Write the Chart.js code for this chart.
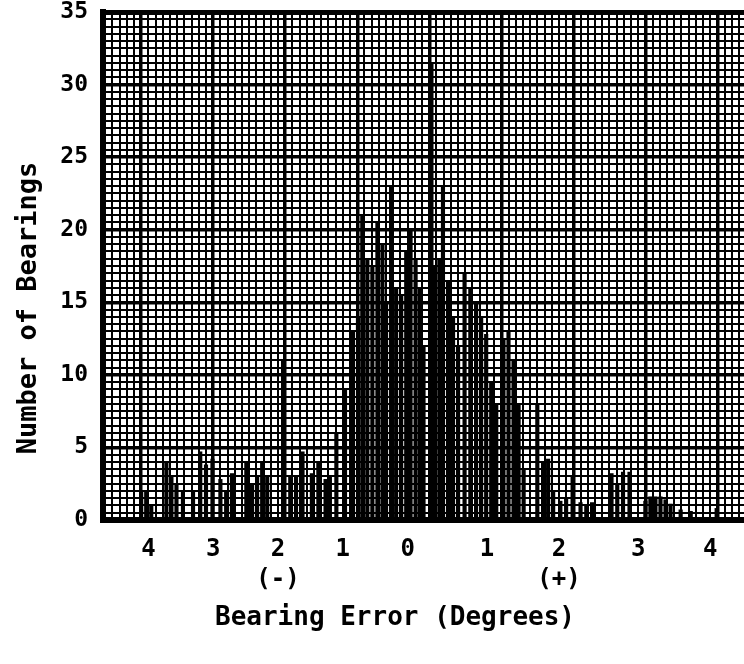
<!DOCTYPE html>
<html>
<head>
<meta charset="utf-8">
<script src="https://cdn.jsdelivr.net/npm/chart.js@4.4.1/dist/chart.umd.min.js"></script>
<style>
html,body{margin:0;padding:0;background:#fff;overflow:hidden;width:744px;height:664px}
#wrap{position:absolute;left:0;top:0;width:775px;height:664px}
</style>
</head>
<body>
<div id="wrap"><canvas id="c" width="775" height="664"></canvas></div>
<script>
// Bearing error of each bar (degrees: one heavy square = 1 degree)
const barErrors = [
  -4.00,-3.93,-3.86,-3.65,-3.58,-3.51,-3.42,-3.28,-3.18,-3.10,-3.01,-2.90,-2.82,-2.74,
  -2.54,-2.46,-2.39,-2.32,-2.25,-2.03,-1.93,-1.85,-1.76,-1.63,-1.54,-1.44,-1.38,-1.29,
  -1.17,-1.06,-0.99,-0.93,-0.86,-0.79,-0.72,-0.65,-0.60,-0.53,-0.46,-0.39,-0.32,-0.26,
  -0.19,-0.13,-0.08,0.03,0.08,0.14,0.19,0.26,0.33,0.40,0.49,0.57,0.65,0.72,0.79,0.86,
  0.93,1.03,1.10,1.17,1.24,1.31,1.50,1.58,1.65,1.72,1.82,1.90,1.99,2.10,2.18,2.26,
  2.53,2.61,2.69,2.78,3.00,3.07,3.14,3.21,3.28,3.35,3.49,3.63,3.99
];
// Number of bearings for each bar
const barCounts = [
  2,2,1,4,3,2.5,2,2,4.7,3.8,4.2,2.8,2,3.2,
  4,2.5,3,4,3,11,3,3,4.7,3.2,4,2.8,3,6,
  9,13,14,21,18,17.5,20.5,19,15,23,16,15.5,18.5,20,
  18,16,12,31.5,17.5,18,23,16.5,14,12,17,16,15,14,12.8,9.5,
  8,12.5,13,11,8,3.5,8,4,4.2,2,1.3,1.5,3,1.2,1,1.2,
  3.2,2.5,3.3,3.3,1.3,1.6,1.6,1.6,1.4,1.1,0.7,0.6,0.8
];
// Typed x-axis labels and where they sit along the axis (degrees)
const xTickPositions = [-3.9,-3.0,-2.1,-1.2,-0.3,0.8,1.8,2.9,3.9];
const xTickLabels = [["4"],["3"],["2","(-)"],["1"],["0"],["1"],["2","(+)"],["3"],["4"]];
// Y tick labels
const yTickLabels = [0,5,10,15,20,25,30,35];
const xTitle = 'Bearing Error (Degrees)';
const yTitle = 'Number of Bearings';

const xMin = -4.53, xMax = 4.80;
const near = (a,b) => Math.abs(a-b) < 1e-6;
const isWhole = v => near(v, Math.round(v));

const typedTitles = {
  id: 'typedTitles',
  afterDraw(chart) {
    const ctx = chart.ctx;
    ctx.save();
    ctx.fillStyle = '#000';
    ctx.textAlign = 'center';
    ctx.textBaseline = 'middle';
    ctx.font = 'bold 26px "DejaVu Sans Mono"';
    ctx.fillText(xTitle, 395, 618);
    ctx.font = 'bold 27px "DejaVu Sans Mono"';
    ctx.translate(29, 308);
    ctx.rotate(-Math.PI / 2);
    ctx.fillText(yTitle, 0, 0);
    ctx.restore();
  }
};

new Chart(document.getElementById('c'), {
  type: 'bar',
  data: {
    datasets: [{
      data: barErrors.map((x,i) => ({x: x, y: barCounts[i]})),
      backgroundColor: '#000',
      borderWidth: 0,
      barThickness: 3.5
    }]
  },
  plugins: [typedTitles],
  options: {
    responsive: false,
    animation: false,
    events: [],
    layout: {padding: 0},
    plugins: {legend: {display: false}, tooltip: {enabled: false}},
    scales: {
      x: {
        type: 'linear',
        min: xMin, max: xMax,
        offset: false,
        afterFit: s => { s.height = 144; s.paddingLeft = 0; s.paddingRight = 0; },
        border: {display: true, color: '#000', width: 6},
        grid: {
          offset: false,
          color: '#000',
          drawTicks: false,
          lineWidth: ctx => (ctx.tick && isWhole(ctx.tick.value) ? 3.5 : 2)
        },
        ticks: {
          stepSize: 0.1,
          autoSkip: false,
          maxRotation: 0,
          padding: 15,
          color: '#000',
          font: {family: 'DejaVu Sans Mono', weight: 'bold', size: 24, lineHeight: 1.25},
          callback: v => {
            const i = xTickPositions.findIndex(p => near(p, v));
            return i >= 0 ? xTickLabels[i] : '';
          }
        }
      },
      y: {
        min: 0, max: 35,
        afterFit: s => { s.width = 103; s.paddingTop = 12; s.paddingBottom = 0; },
        border: {display: true, color: '#000', width: 6},
        grid: {
          color: '#000',
          drawTicks: false,
          lineWidth: ctx => {
            const v = ctx.tick ? ctx.tick.value : 0;
            if (near(v, 35)) return 5;
            return near(v % 5, 0) ? 3.5 : 2;
          }
        },
        ticks: {
          stepSize: 0.5,
          autoSkip: false,
          padding: 15,
          color: '#000',
          font: {family: 'DejaVu Sans Mono', weight: 'bold', size: 23},
          callback: v => (yTickLabels.some(t => near(t, v)) ? String(v) : '')
        }
      }
    }
  }
});
</script>
</body>
</html>
